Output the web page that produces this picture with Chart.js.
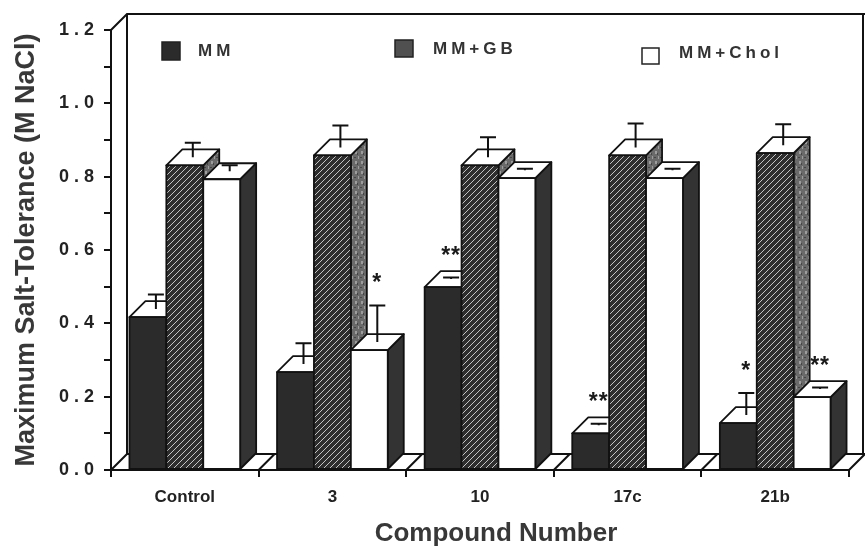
<!DOCTYPE html>
<html>
<head>
<meta charset="utf-8">
<title>Maximum Salt-Tolerance</title>
<script src="https://cdn.jsdelivr.net/npm/chart.js@4.4.0/dist/chart.umd.min.js"></script>
<style>
  html, body { margin: 0; padding: 0; background: #fff; }
</style>
</head>
<body>
<canvas id="myChart" width="865" height="548"></canvas>
<script>
// values (M NaCl)
var compounds   = ['Control', '3', '10', '17c', '21b'];
var seriesNames = ['MM', 'MM+GB', 'MM+Chol'];
var mmValues    = [0.417, 0.267, 0.499, 0.100, 0.128];
var gbValues    = [0.831, 0.858, 0.831, 0.858, 0.864];
var cholValues  = [0.793, 0.327, 0.796, 0.796, 0.199];
var mmErrors    = [0.040, 0.057, 0.004, 0.004, 0.060];
var gbErrors    = [0.040, 0.060, 0.055, 0.065, 0.057];
var cholErrors  = [0.016, 0.100, 0.004, 0.004, 0.004];
// significance marks
var mmStars     = ['', '', '**', '**', '*'];
var gbStars     = ['', '', '', '', ''];
var cholStars   = ['', '*', '', '', '**'];

var errors = [mmErrors, gbErrors, cholErrors];
var stars = [mmStars, gbStars, cholStars];

var depth = 16;
var hatch = null, speckle = null;

Chart.defaults.font.family = "'Liberation Sans', Arial, sans-serif";

function makePatterns(ctx) {
    var c = document.createElement('canvas');
    c.width = 6; c.height = 6;
    var g = c.getContext('2d');
    g.fillStyle = '#2e2e2e';
    g.fillRect(0, 0, 6, 6);
    g.strokeStyle = '#c4c4c4';
    g.lineWidth = 1;
    g.beginPath();
    g.moveTo(0, 6); g.lineTo(6, 0);
    g.moveTo(-1, 1); g.lineTo(1, -1);
    g.moveTo(5, 7); g.lineTo(7, 5);
    g.stroke();
    hatch = ctx.createPattern(c, 'repeat');

    var s = document.createElement('canvas');
    s.width = 6; s.height = 10;
    var h = s.getContext('2d');
    h.fillStyle = '#6a6a6a';
    h.fillRect(0, 0, 6, 10);
    h.fillStyle = '#9c9c9c';
    h.fillRect(1, 1, 2, 3); h.fillRect(4, 6, 1, 3);
    h.fillStyle = '#454545';
    h.fillRect(3, 3, 1, 2); h.fillRect(0, 7, 2, 1);
    speckle = ctx.createPattern(s, 'repeat');
}

function drawBar(ctx, el, d) {
    var fronts = ['#2b2b2b', hatch, '#ffffff'];
    var sides = ['#1e1e1e', speckle, '#333333'];
    var x0 = el.x - el.width / 2, x1 = el.x + el.width / 2;
    var top = el.y, bot = el.base;

    ctx.strokeStyle = '#111';
    ctx.lineWidth = 1.8;
    ctx.lineJoin = 'round';

    // side face
    ctx.beginPath();
    ctx.moveTo(x1, bot);
    ctx.lineTo(x1 + depth, bot - depth);
    ctx.lineTo(x1 + depth, top - depth);
    ctx.lineTo(x1, top);
    ctx.closePath();
    ctx.fillStyle = sides[d];
    ctx.fill();
    ctx.stroke();

    // top face
    ctx.beginPath();
    ctx.moveTo(x0, top);
    ctx.lineTo(x0 + depth, top - depth);
    ctx.lineTo(x1 + depth, top - depth);
    ctx.lineTo(x1, top);
    ctx.closePath();
    ctx.fillStyle = '#fff';
    ctx.fill();
    ctx.stroke();

    // front face
    ctx.fillStyle = fronts[d];
    ctx.fillRect(x0, top, x1 - x0, bot - top);
    ctx.strokeRect(x0, top, x1 - x0, bot - top);
}

var depthPlugin = {
    id: 'depth',
    beforeDatasetsDraw: function (chart) {
        var ctx = chart.ctx, a = chart.chartArea, x = chart.scales.x;
        ctx.save();
        ctx.strokeStyle = '#111';
        ctx.lineWidth = 2;
        ctx.beginPath();
        // back wall
        ctx.moveTo(a.left, a.top);
        ctx.lineTo(a.left + depth, a.top - depth);
        ctx.lineTo(chart.width, a.top - depth);
        ctx.moveTo(a.left + depth, a.top - depth);
        ctx.lineTo(a.left + depth, a.bottom - depth);
        ctx.moveTo(chart.width - 2, a.top - depth);
        ctx.lineTo(chart.width - 2, a.bottom - depth);
        // floor
        ctx.moveTo(a.left + depth, a.bottom - depth);
        ctx.lineTo(chart.width, a.bottom - depth);
        for (var i = 0; i <= compounds.length; i++) {
            var xb = x.getPixelForValue(i - 0.5);
            ctx.moveTo(xb, a.bottom);
            ctx.lineTo(xb + depth, a.bottom - depth);
        }
        ctx.stroke();
        ctx.restore();
    },
    afterDatasetsDraw: function (chart) {
        var ctx = chart.ctx, y = chart.scales.y;
        if (!hatch) makePatterns(ctx);
        ctx.save();
        for (var i = 0; i < compounds.length; i++) {
            for (var d = 0; d < 3; d++) {
                var el = chart.getDatasetMeta(d).data[i];
                var value = chart.data.datasets[d].data[i];
                drawBar(ctx, el, d);

                // error bar from the centre of the top face
                var cx = el.x + depth / 2;
                var yFace = el.y - depth / 2;
                var yCap = y.getPixelForValue(value + errors[d][i]) - depth / 2;
                ctx.strokeStyle = '#111';
                ctx.lineWidth = 2;
                ctx.beginPath();
                ctx.moveTo(cx, yFace);
                ctx.lineTo(cx, yCap);
                ctx.moveTo(cx - 8, yCap);
                ctx.lineTo(cx + 8, yCap);
                ctx.stroke();

                if (stars[d][i]) {
                    ctx.fillStyle = '#1a1a1a';
                    ctx.font = "bold 23px 'Liberation Sans', Arial, sans-serif";
                    ctx.textAlign = 'center';
                    ctx.textBaseline = 'alphabetic';
                    ctx.letterSpacing = '1px';
                    ctx.fillText(stars[d][i], cx, yCap - 15);
                    ctx.letterSpacing = '0px';
                }
            }
        }
        ctx.restore();
    },
    afterDraw: function (chart) {
        var ctx = chart.ctx;
        ctx.save();
        // legend, placed inside the plot like the original
        var boxes = [[162, 42, 18, 18], [395, 40, 18, 17], [642, 48, 17, 16]];
        var boxFill = ['#2b2b2b', '#505050', '#ffffff'];
        var textPos = [[198, 51], [433, 49], [679, 53]];
        ctx.strokeStyle = '#222';
        ctx.lineWidth = 1.5;
        for (var k = 0; k < 3; k++) {
            var b = boxes[k];
            ctx.fillStyle = boxFill[k];
            ctx.fillRect(b[0], b[1], b[2], b[3]);
            ctx.strokeRect(b[0], b[1], b[2], b[3]);
            ctx.fillStyle = '#333';
            ctx.font = "bold 17px 'Liberation Sans', Arial, sans-serif";
            ctx.textAlign = 'left';
            ctx.textBaseline = 'middle';
            ctx.letterSpacing = '4px';
            ctx.fillText(seriesNames[k], textPos[k][0], textPos[k][1]);
        }
        ctx.letterSpacing = '0px';
        // x axis title
        ctx.fillStyle = '#383838';
        ctx.font = "bold 26px 'Liberation Sans', Arial, sans-serif";
        ctx.textAlign = 'center';
        ctx.textBaseline = 'alphabetic';
        ctx.fillText('Compound Number', 496, 541);
        ctx.restore();
    }
};

var ctx = document.getElementById('myChart').getContext('2d');

var data = {
    labels: compounds,
    datasets: [
        { label: seriesNames[0], data: mmValues, backgroundColor: 'rgba(0,0,0,0)', borderWidth: 0 },
        { label: seriesNames[1], data: gbValues, backgroundColor: 'rgba(0,0,0,0)', borderWidth: 0 },
        { label: seriesNames[2], data: cholValues, backgroundColor: 'rgba(0,0,0,0)', borderWidth: 0 }
    ]
};

var config = {
    type: 'bar',
    data: data,
    options: {
        responsive: false,
        animation: false,
        events: [],
        categoryPercentage: 0.75,
        barPercentage: 1.0,
        layout: { padding: { left: 0, right: 16, top: 30, bottom: 0 } },
        plugins: {
            legend: { display: false },
            tooltip: { enabled: false }
        },
        scales: {
            x: {
                afterFit: function (scale) { scale.height = 78; },
                grid: { drawOnChartArea: false, drawTicks: true, tickLength: 7, color: '#111', lineWidth: 2 },
                border: { display: true, color: '#111', width: 2 },
                ticks: {
                    color: '#222',
                    padding: 10,
                    font: { size: 17, weight: 'bold' }
                }
            },
            y: {
                min: 0,
                max: 1.2,
                afterFit: function (scale) { scale.width = 111; },
                grid: { drawOnChartArea: false, drawTicks: true, tickLength: 7, color: '#111', lineWidth: 2 },
                border: { display: true, color: '#111', width: 2 },
                ticks: {
                    stepSize: 0.1,
                    color: '#222',
                    padding: 10,
                    font: { size: 18, weight: 'bold' },
                    callback: function (v) {
                        if (Math.round(v * 10) % 2 !== 0) return '';
                        return v.toFixed(1).split('').join(' ');
                    }
                },
                title: {
                    display: true,
                    text: 'Maximum Salt-Tolerance (M NaCl)',
                    color: '#383838',
                    padding: { top: 10, bottom: 0 },
                    font: { size: 27, weight: 'bold' }
                }
            }
        }
    },
    plugins: [depthPlugin]
};

var myChart = new Chart(ctx, config);
</script>
</body>
</html>
